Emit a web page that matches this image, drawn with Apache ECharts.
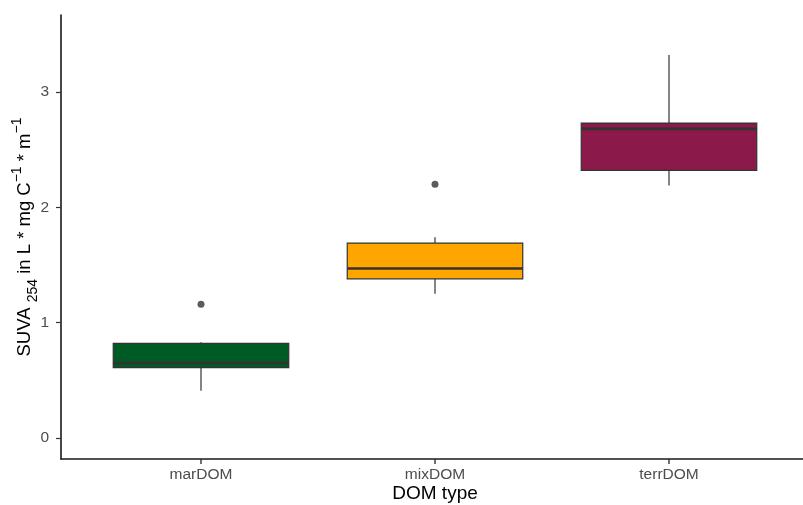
<!DOCTYPE html>
<html>
<head>
<meta charset="utf-8">
<script src="https://cdn.jsdelivr.net/npm/echarts@6/dist/echarts.min.js"></script>
<style>html,body{margin:0;padding:0;background:#fff;}#c{width:803px;height:505px;}</style>
</head>
<body>
<div id="c"></div>
<script>
const categories = ['marDOM', 'mixDOM', 'terrDOM'];
const lowerWhisker = [0.41, 1.25, 2.19];
const q1 = [0.61, 1.38, 2.32];
const median = [0.65, 1.47, 2.68];
const q3 = [0.82, 1.69, 2.73];
const upperWhisker = [0.83, 1.74, 3.32];
const outlierCategory = ['marDOM', 'mixDOM'];
const outlierValue = [1.16, 2.20];
const fillColors = ['#005A24', '#FFA500', '#8B1A4B'];
const yTicks = [0, 1, 2, 3];

const FONT = '"Liberation Sans", Arial, sans-serif';
const YMIN = -0.182, YMAX = 3.667;
// grid 0 extends 5px below the axis line so the category ticks are drawn inside it
const YMIN_EXT = YMIN - 5 * (YMAX - YMIN) / 444;

const boxData = categories.map((c, i) => [i, lowerWhisker[i], q1[i], median[i], q3[i], upperWhisker[i]]);

const chart = echarts.init(document.getElementById('c'), null, {renderer: 'canvas'});
chart.setOption({
  animation: false,
  backgroundColor: '#fff',
  grid: [
    {left: 84, right: 17, top: 15, bottom: 41, outerBoundsMode: 'none', containLabel: false},
    {left: 61, right: 0, top: 15, bottom: 46, outerBoundsMode: 'none', containLabel: false}
  ],
  xAxis: [
    {
      type: 'category', gridIndex: 0, data: categories,
      axisLine: {show: false, onZero: false},
      axisTick: {show: false},
      axisLabel: {color: '#4D4D4D', fontSize: 15.5, fontFamily: FONT, margin: 3},
      name: 'DOM type', nameLocation: 'middle', nameGap: 20, nameMoveOverlap: false,
      nameTextStyle: {color: '#000', fontSize: 19, fontFamily: FONT},
      splitLine: {show: false}
    },
    {
      type: 'value', gridIndex: 1, min: 0, max: 1,
      axisLine: {show: true, onZero: false, lineStyle: {color: '#1a1a1a', width: 1.6}},
      axisTick: {show: false}, axisLabel: {show: false}, splitLine: {show: false}
    }
  ],
  yAxis: [
    {
      type: 'value', gridIndex: 0, min: YMIN_EXT, max: YMAX,
      axisLine: {show: false}, axisTick: {show: false}, axisLabel: {show: false}, splitLine: {show: false}
    },
    {
      type: 'value', gridIndex: 1, min: YMIN, max: YMAX,
      axisLine: {show: true, onZero: false, lineStyle: {color: '#1a1a1a', width: 1.6}},
      axisTick: {show: true, customValues: yTicks, length: 5, lineStyle: {color: '#333', width: 1.2}},
      axisLabel: {customValues: yTicks, color: '#4D4D4D', fontSize: 15.5, fontFamily: FONT, margin: 12},
      splitLine: {show: false}
    }
  ],
  graphic: [{
    type: 'text', x: 25, y: 237, rotation: Math.PI / 2,
    style: {
      text: '{a|SUVA }{sub|254}{a| in L * mg C}{sup|\u22121}{a| * m}{sup|\u22121}',
      align: 'center', verticalAlign: 'middle',
      rich: {
        a: {fontSize: 18.5, fontFamily: FONT, fill: '#000', lineHeight: 30},
        sub: {fontSize: 14, fontFamily: FONT, fill: '#000', lineHeight: 24, verticalAlign: 'bottom'},
        sup: {fontSize: 14, fontFamily: FONT, fill: '#000', lineHeight: 14, verticalAlign: 'top'}
      }
    }
  }],
  series: [
    {
      type: 'custom', xAxisIndex: 0, yAxisIndex: 0,
      data: boxData,
      renderItem: function (params, api) {
        const idx = api.value(0);
        const bw = api.size([1, 0])[0] * 0.75;
        const pLow = api.coord([idx, api.value(1)]);
        const pQ1 = api.coord([idx, api.value(2)]);
        const pMed = api.coord([idx, api.value(3)]);
        const pQ3 = api.coord([idx, api.value(4)]);
        const pHigh = api.coord([idx, api.value(5)]);
        const pAxis = api.coord([idx, YMIN]);
        const pTickEnd = api.coord([idx, YMIN_EXT]);
        const cx = pQ1[0];
        const stroke = {stroke: '#333333', lineWidth: 1.2};
        return {
          type: 'group',
          children: [
            {type: 'line', shape: {x1: cx, y1: pAxis[1], x2: cx, y2: pTickEnd[1]}, style: {stroke: '#333333', lineWidth: 1.4}},
            {type: 'line', shape: {x1: cx, y1: pLow[1], x2: cx, y2: pQ1[1]}, style: stroke},
            {type: 'line', shape: {x1: cx, y1: pQ3[1], x2: cx, y2: pHigh[1]}, style: stroke},
            {type: 'rect', shape: {x: cx - bw / 2, y: pQ3[1], width: bw, height: pQ1[1] - pQ3[1]},
              style: {fill: fillColors[params.dataIndex], stroke: '#333333', lineWidth: 1.2}},
            {type: 'line', shape: {x1: cx - bw / 2, y1: pMed[1], x2: cx + bw / 2, y2: pMed[1]},
              style: {stroke: '#333333', lineWidth: 2.6}}
          ]
        };
      }
    },
    {
      type: 'scatter', xAxisIndex: 0, yAxisIndex: 0,
      symbol: 'circle', symbolSize: 7,
      itemStyle: {color: '#333333'},
      data: outlierCategory.map((c, i) => [c, outlierValue[i]])
    }
  ]
});
</script>
</body>
</html>
